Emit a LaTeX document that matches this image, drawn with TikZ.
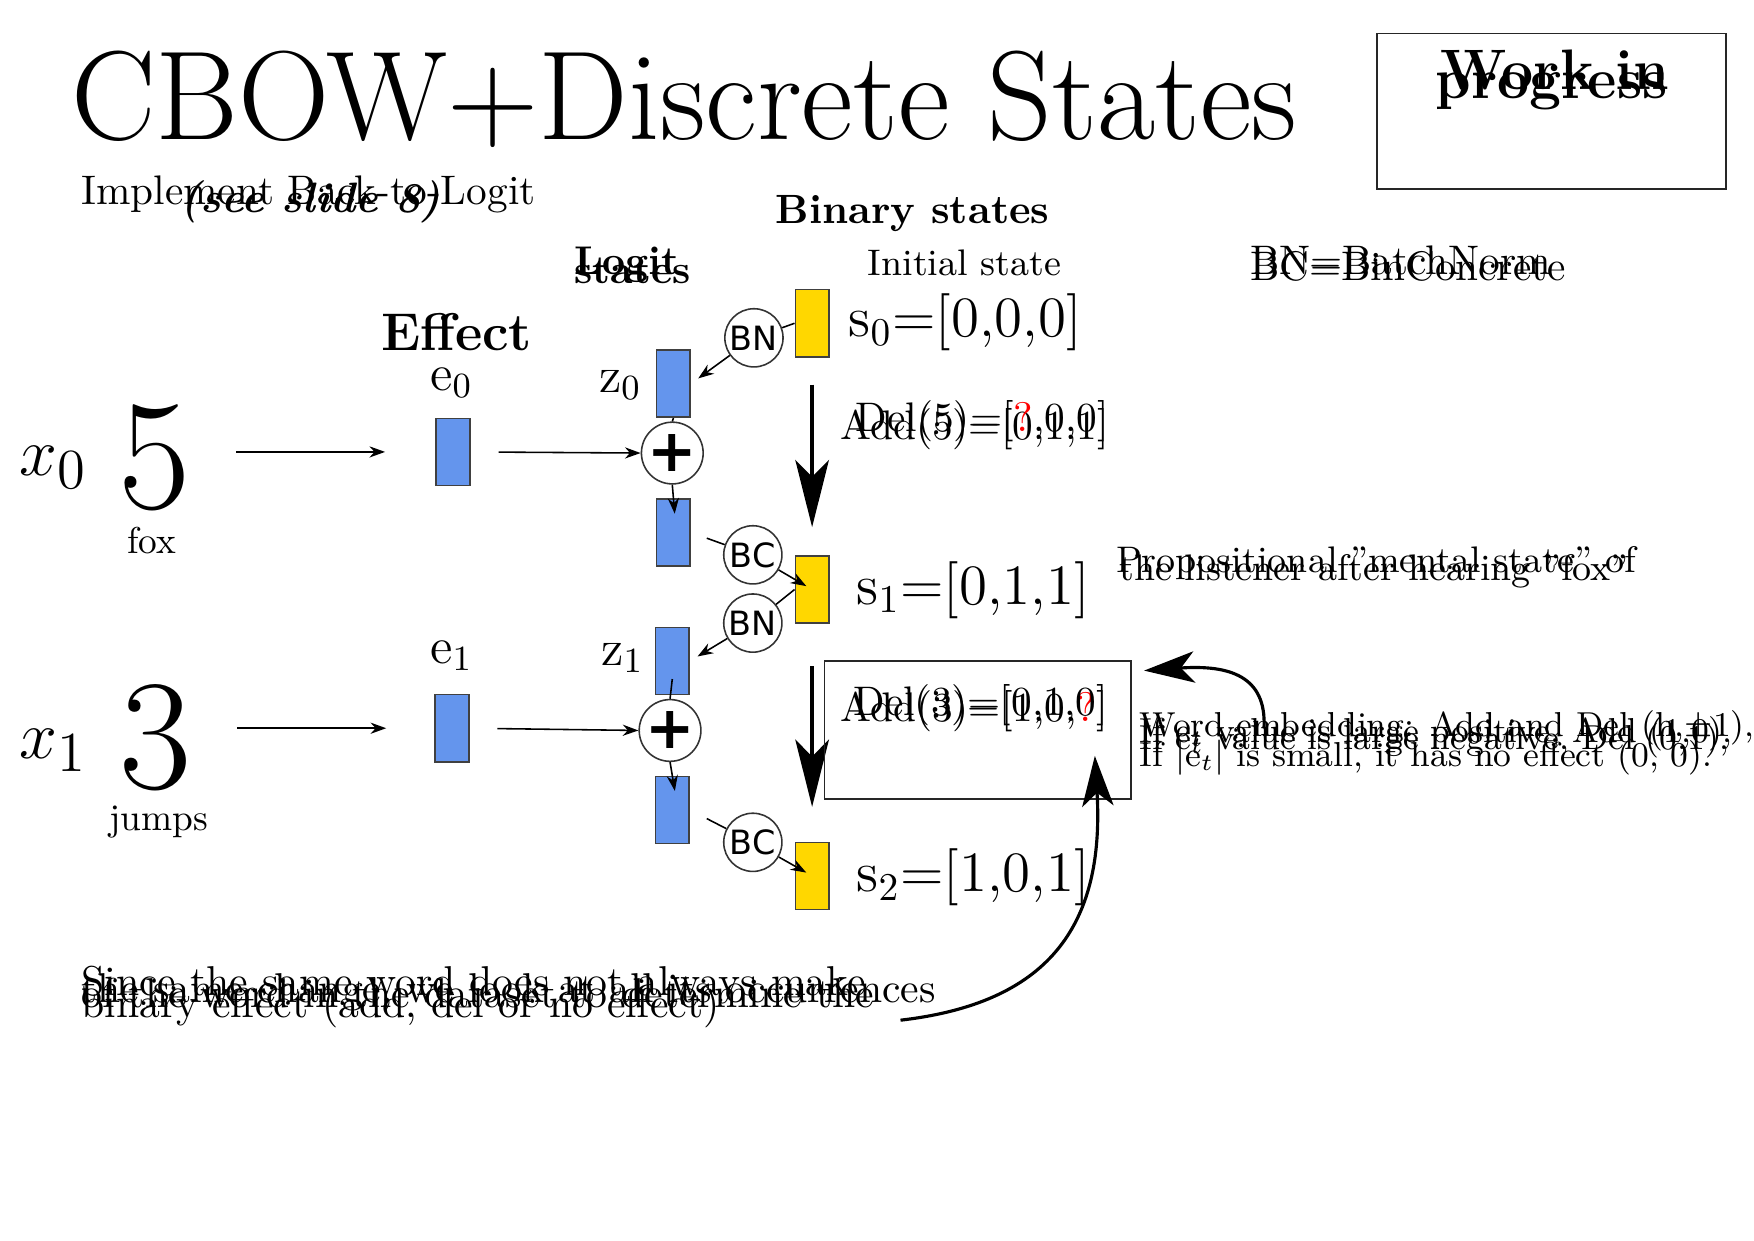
\documentclass[tikz,border=0pt]{standalone}
\usepackage{fontspec}
\newfontfamily\opsans{DejaVu Sans}
\usetikzlibrary{arrows.meta}
\definecolor{embblue}{HTML}{6495ED}
\definecolor{stategold}{HTML}{FFD700}
\newcommand{\fsz}[1]{\fontsize{#1}{#1}\selectfont}

\begin{document}
\begin{tikzpicture}[x=0.01cm, y=-0.01cm,
  embbox/.style={draw=black!75, fill=embblue, minimum width=0.3cm, minimum height=0.6cm, inner sep=0pt},
  statebox/.style={draw=black!75, fill=stategold, minimum width=0.3cm, minimum height=0.6cm, inner sep=0pt},
  opcirc/.style={circle, draw=black!80, fill=white, minimum size=0.52cm, inner sep=0pt, font=\opsans\fsz{8.5}},
  txt/.style={anchor=base west, inner sep=0pt},
  rtxt/.style={anchor=base east, inner sep=0pt, font=\fsz{10.5}},
  arr/.style={-{Stealth[length=0.14cm, width=0.1cm]}},
  bigarr/.style={line width=1pt, -{Stealth[length=0.6cm, width=0.3cm, inset=0.15cm]}},
  curvearr/.style={line width=0.8pt, -{Stealth[length=0.45cm, width=0.28cm, inset=0.12cm]}}]
  \useasboundingbox (0,0) rectangle (1568,1109);

  \node[txt, font=\fsz{32.2}] (title) at (63,125) {CBOW+Discrete States};
  \node[draw=black!85, minimum width=3.12cm, minimum height=1.39cm] (wipbox) at (1387,99.5) {};
  \node[anchor=base, inner sep=0pt, font=\bfseries\fsz{14.5}] (wip1) at (1390,80) {Work in};
  \node[anchor=base, inner sep=0pt, font=\bfseries\fsz{14.5}] (wip2) at (1387,88) {progress};

  \node[txt, font=\fsz{10.5}] (impl) at (72,183) {Implement Back-to-Logit};
  \node[txt, font=\bfseries\itshape\fsz{10.8}] (seeslide) at (161,190) {(see slide 8)};
  \node[txt, font=\bfseries\fsz{10.4}] (binhead) at (693,200) {Binary states};
  \node[txt, font=\fsz{9.4}] (inithead) at (775,246) {Initial state};
  \node[txt, font=\bfseries\fsz{10.2}] (logit1) at (513,245) {Logit};
  \node[txt, font=\bfseries\fsz{10.2}] (logit2) at (513,253) {states};
  \node[txt, font=\bfseries\fsz{13.5}] (effhead) at (340,313) {Effect};
  \node[txt, font=\fsz{10.5}] (bnkey) at (1117,245) {BN=BatchNorm};
  \node[txt, font=\fsz{10.5}] (bckey) at (1117,251) {BC=BinConcrete};

  \node[statebox] (s0) at (726,289) {};
  \node[statebox] (s1) at (726,527) {};
  \node[statebox] (s2) at (726,783) {};
  \node[txt, font=\fsz{14.5}] (s0lab) at (758,301) {s$_0$=[0,0,0]};
  \node[txt, font=\fsz{14.5}] (s1lab) at (765,540) {s$_1$=[0,1,1]};
  \node[txt, font=\fsz{14.5}] (s2lab) at (765,797) {s$_2$=[1,0,1]};

  \node[txt, font=\fsz{19}] (x0) at (17,425) {$x_0$};
  \node[txt, font=\fsz{40}] (d0) at (105,455) {5};
  \node[txt, font=\fsz{9.5}] (w0) at (113,495) {fox};
  \node[embbox] (e0) at (405,404) {};
  \node[txt, font=\fsz{13}] (e0lab) at (384,349) {e$_0$};
  \node[embbox] (z0) at (602,343) {};
  \node[txt, font=\fsz{13}] (z0lab) at (535,351) {z$_0$};
  \node[opcirc, font=\opsans\bfseries\fsz{15}] (p0) at (601,405) {+};
  \node[embbox] (h0) at (602,476) {};
  \node[opcirc] (bn0) at (674,302) {BN};
  \node[opcirc] (bc0) at (673,496) {BC};

  \draw[arr, shorten <=0.4cm, shorten >=0.45cm] (d0.east |- e0.west) -- (e0.west);
  \draw[arr, shorten <=0.25cm] (e0.east) -- (p0.west);
  \draw (z0.south) -- (p0.north);
  \draw[arr, shorten >=-0.14cm] (p0.south) -- (h0.north);
  \draw (s0.west) -- (bn0);
  \draw[arr, shorten >=0.08cm] (bn0) -- (z0.east);
  \draw[shorten <=0.15cm] (h0.east) -- (bc0);
  \draw[arr, shorten >=0.06cm] (bc0) -- (s1.center);

  \node[txt, font=\fsz{19}] (x1) at (17,678) {$x_1$};
  \node[txt, font=\fsz{40}] (d1) at (106,705) {3};
  \node[txt, font=\fsz{9.5}] (w1) at (97,742) {jumps};
  \node[embbox] (e1) at (404,651) {};
  \node[txt, font=\fsz{13}] (e1lab) at (384,593) {e$_1$};
  \node[embbox] (z1) at (601,591) {};
  \node[txt, font=\fsz{13}] (z1lab) at (537,595) {z$_1$};
  \node[opcirc, font=\opsans\bfseries\fsz{15}] (p1) at (599,653) {+};
  \node[embbox] (h1) at (601,724) {};
  \node[opcirc] (bn1) at (673,557) {BN};
  \node[opcirc] (bc1) at (673,753) {BC};

  \draw[arr, shorten <=0.4cm, shorten >=0.43cm] (d1.east |- e1.west) -- (e1.west);
  \draw[arr, shorten <=0.25cm] (e1.east) -- (p1.west);
  \draw ([yshift=-0.16cm]z1.center) -- (p1.north);
  \draw[arr, shorten >=-0.14cm] (p1.south) -- (h1.north);
  \draw (s1.west) -- (bn1);
  \draw[arr, shorten >=0.08cm] (bn1) -- (z1.east);
  \draw[shorten <=0.17cm] (h1.east) -- (bc1);
  \draw[arr, shorten >=0.06cm] (bc1) -- (s2.center);

  \draw[bigarr, shorten <=0.24cm, shorten >=0.25cm] (s0.south) -- (s1.north);
  \draw[bigarr, shorten <=0.38cm, shorten >=0.31cm] (s1.south) -- (s2.north);

  \node[rtxt] (add0) at (992,393) {Add(5)=[0,1,1]};
  \node[rtxt] (del0) at (992,386) {Del(5)=[\textcolor{red}{?},0,0]};
  \node[draw=black!85, minimum width=2.74cm, minimum height=1.23cm, inner sep=0pt] (delbox) at (874,652.5) {};
  \node[rtxt] (add1) at (991,645) {Add(3)=[1,0,\textcolor{red}{?}]};
  \node[rtxt] (del1) at (991,640) {Del(3)=[0,1,0]};

  \node[txt, font=\fsz{9.4}] (prop1) at (997,512) {Propositional "mental state" of};
  \node[txt, font=\fsz{9.4}] (prop2) at (1000,519) {the listener after hearing "fox"};

  \node[txt, font=\fsz{8.8}] (word1) at (1018,658) {Word embedding: Add and Del (h,$\pm$1),};
  \node[txt, font=\fsz{8.8}] (word2) at (1018,664) {If e$_t$ value is large positive, Add (1,0),};
  \node[txt, font=\fsz{8.8}] (word3) at (1018,670) {If e$_t$ value is large negative, Del (0,1),};
  \node[txt, font=\fsz{8.8}] (word4) at (1018,685) {If $|$e$_t|$ is small, it has no effect (0, 0).};

  \node[txt, font=\fsz{10.6}] (rem1) at (72,890) {Since the same word does not always make};
  \node[txt, font=\fsz{10.6}] (rem2) at (72,896) {the same change, we look at all its occurrences};
  \node[txt, font=\fsz{10.6}] (rem3) at (72,901) {of the word in the dataset to determine the};
  \node[txt, font=\fsz{10.6}] (rem4) at (72,910) {binary effect (add, del or no effect)};

  \coordinate (wordtip) at (1130,650);
  \coordinate (remtail) at (805,912);
  \draw[curvearr, shorten >=0.11cm] (wordtip) .. controls (1132,605) and (1100,594) .. ([yshift=-0.1cm]delbox.north east);
  \draw[curvearr] (remtail) .. controls (935,897) and (988,830) .. ([xshift=-0.33cm, yshift=0.39cm]delbox.south east);
\end{tikzpicture}
\end{document}
